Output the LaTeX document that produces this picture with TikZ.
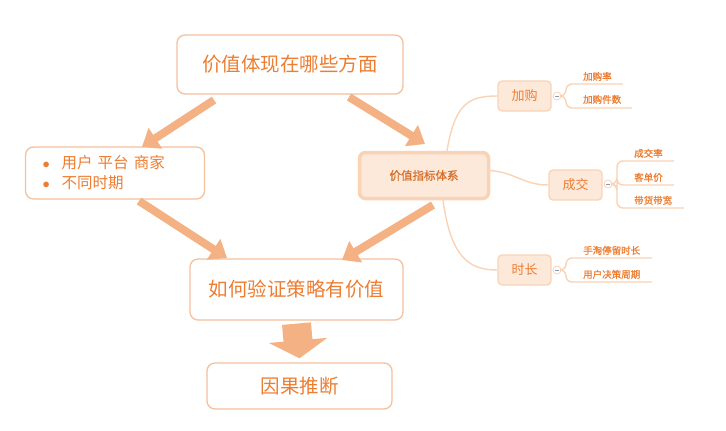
\documentclass[tikz,border=0pt]{standalone}
\usepackage{fontspec}
\setmainfont{Noto Sans CJK SC}
\newfontfamily\leaffont[FakeBold=1.1]{Noto Sans CJK SC}
\usepackage{xcolor}
\definecolor{TxtOrange}{HTML}{ED7D31}
\definecolor{EdgePeach}{HTML}{F5C09C}
\definecolor{ArrowPeach}{HTML}{F4B183}
\definecolor{FillPeach}{HTML}{FDE9DA}
\definecolor{LinePeach}{HTML}{F9D3B6}
\definecolor{FoldGray}{HTML}{8A9BB8}
\usepackage{tikz}
\usetikzlibrary{arrows.meta,positioning}
\tikzset{bigarrow/.style={ArrowPeach,line width=8pt,-{Triangle[length=16pt,width=24pt]}}}
\tikzstyle{branch}=[LinePeach,line width=1.4pt,rounded corners=6pt]
\newcommand\dotitem{\makebox[19pt][l]{$\bullet$}}

\begin{document}
\begin{tikzpicture}[x=1pt,y=-1pt,
	mainbox/.style={draw=EdgePeach,line width=1.3pt,rounded corners=8pt,text=TxtOrange,fill=white,inner sep=0},
	topicbox/.style={draw=LinePeach,fill=FillPeach,line width=1.3pt,rounded corners=4pt,text=TxtOrange,minimum width=53pt,minimum height=30pt,font=\fontsize{13}{15}\selectfont},
	fold/.style={circle,draw=LinePeach,fill=white,line width=0.8pt,minimum size=8pt,inner sep=0},
	leaf/.style={anchor=south west,text=TxtOrange,inner sep=0,font=\leaffont\fontsize{9.5}{11}\selectfont}]
	
	\useasboundingbox (0,0) rectangle (726,431);
	
	%% MAIN BOXES
	\node[mainbox,minimum width=226pt,minimum height=59pt,font=\fontsize{19.5}{22}\selectfont] (aspect) at (290,64.5) {价值体现在哪些方面};
	\node[mainbox,minimum height=52pt,text width=145pt,inner xsep=17pt,align=left,font=\fontsize{15.5}{20}\selectfont] (who) at (115,173) {\dotitem 用户 平台 商家\\\dotitem 不同时期};
	\node[draw=LinePeach,fill=FillPeach,line width=3.5pt,rounded corners=6pt,minimum width=129pt,minimum height=46pt,text=TxtOrange!90!black,font=\leaffont\fontsize{11.5}{13}\selectfont] (metric) at (424,175.5) {价值指标体系};
	\node[mainbox,minimum width=213pt,minimum height=61pt,font=\fontsize{19.5}{22}\selectfont] (verify) at (296.5,289.5) {如何验证策略有价值};
	\node[mainbox,minimum width=185pt,minimum height=46pt,font=\fontsize{19.5}{22}\selectfont] (causal) at (299.5,386) {因果推断};
	
	%% BIG ARROWS
	\coordinate (A1s) at (214,100);
	\coordinate (A1e) at (142,147);
	\coordinate (A2s) at (349,97);
	\coordinate (A2e) at (425,144);
	\coordinate (A3s) at (139,201);
	\coordinate (A3e) at (227,258);
	\coordinate (A4s) at (433,205);
	\coordinate (A4e) at (342,260);
	\draw[bigarrow] (A1s) -- (A1e);
	\draw[bigarrow] (A2s) -- (A2e);
	\draw[bigarrow] (A3s) -- (A3e);
	\draw[bigarrow] (A4s) -- (A4e);
	
	\draw[ArrowPeach,line width=29pt,-{Triangle[length=18pt,width=58pt]}] (verify.south) ++(0,3) coordinate (Ds) -- ([yshift=4pt]causal.north) coordinate (De);
	
	%% MIND MAP
	\node[topicbox] (buy) at (524.5,96) {加购};
	\node[topicbox] (deal) at (575.5,185) {成交};
	\node[topicbox] (stay) at (524.5,270) {时长};
	
	\draw[LinePeach,line width=1.4pt] ([xshift=23pt]metric.north) .. controls +(8,-48) and +(-28,0) .. (buy.west);
	\draw[LinePeach,line width=1.4pt] ([yshift=5pt]metric.east) .. controls +(25,2) and +(-25,0) .. (deal.west);
	\draw[LinePeach,line width=1.4pt] ([xshift=19pt]metric.south) .. controls +(8,58) and +(-28,0) .. (stay.west);
	
	\node[fold] (fbuy) at (557,96) {};
	\node[fold] (fdeal) at (608,184) {};
	\node[fold] (fstay) at (557,270) {};
	
	%% LEAVES
	\node[leaf] (buy1) at (583,81) {加购率};
	\node[leaf] (buy2) at (583,104) {加购件数};
	\node[leaf] (deal1) at (634,158) {成交率};
	\node[leaf] (deal2) at (634,182) {客单价};
	\node[leaf] (deal3) at (634,205) {带货带宽};
	\node[leaf] (stay1) at (583,255) {手淘停留时长};
	\node[leaf] (stay2) at (583,279) {用户决策周期};
	
	\draw[branch] (fbuy.east) -- (566,96) |- (623,84);
	\draw[branch] (fbuy.east) -- (566,96) |- (632,108);
	\draw[branch] (fdeal.east) -- (617,184) |- (674,161);
	\draw[branch] (fdeal.east) -- (617,184) |- (674,185);
	\draw[branch] (fdeal.east) -- (617,184) |- (684,208);
	\draw[branch] (fstay.east) -- (566,270) |- (652,258);
	\draw[branch] (fstay.east) -- (566,270) |- (652,282);
	
	\foreach \f in {fbuy,fdeal,fstay}{
		\draw[FoldGray,line width=0.7pt] ([xshift=-2pt]\f.center) -- ([xshift=2pt]\f.center);
	}
	
\end{tikzpicture}
\end{document}
